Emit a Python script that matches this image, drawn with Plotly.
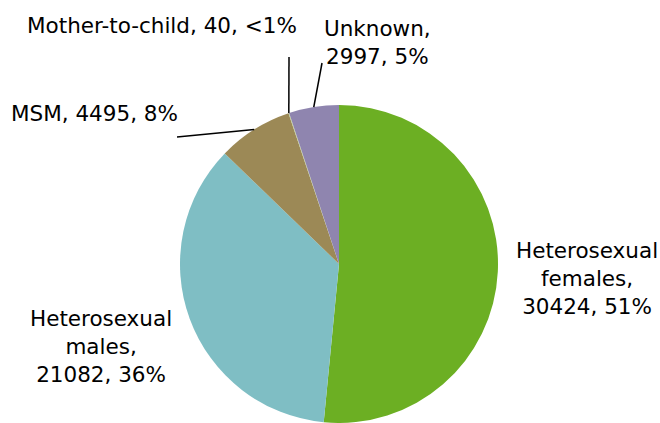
import math
import plotly.graph_objects as go

# ---- data ----
categories = ["Heterosexual females", "Heterosexual males", "MSM", "Mother-to-child", "Unknown"]
values = [30424, 21082, 4495, 40, 2997]
pct_labels = ["51%", "36%", "8%", "<1%", "5%"]
label_text = [
    "Heterosexual<br>females,<br>30424, 51%",
    "Heterosexual<br>males,<br>21082, 36%",
    "MSM, 4495, 8%",
    "Mother-to-child, 40, <1%",
    "Unknown,<br>2997, 5%",
]
colors = ["#6CAF23", "#7FBEC4", "#9C8956", "#BCD08E", "#8F85AF"]

W, H = 660, 423
cx, cy, r = 339, 264, 159  # pixel layout of pie

fig = go.Figure()
fig.add_trace(go.Pie(
    labels=categories, values=values, sort=False, direction="clockwise",
    rotation=0, textinfo="none", hoverinfo="label+value+percent",
    marker=dict(colors=colors, line=dict(width=0)),
    domain=dict(x=[(cx - r) / W, (cx + r) / W], y=[0, 2 * r / H]),
    showlegend=False,
))

font = dict(family="DejaVu Sans", size=21.5, color="#000000")

# label positions (pixel centres) - layout only
label_pos = {
    0: (587, 278),
    1: (101, 346),
    2: (94, 114),
    3: (162, 26),
    4: (377, 42),
}
for i, (px, py) in label_pos.items():
    fig.add_annotation(x=px / W, y=1 - py / H, xref="paper", yref="paper",
                       text=label_text[i], showarrow=False, font=font,
                       xanchor="center", yanchor="middle", align="center")

# leader lines: start at slice mid-angle on pie edge (computed from data)
total = sum(values)
cum = 0
mids = []
for v in values:
    mids.append((cum + v / 2) / total * 360)
    cum += v
leader_end = {2: (177, 137), 3: (289, 57), 4: (322, 63)}
for i, (ex, ey) in leader_end.items():
    a = math.radians(mids[i])
    sx = cx + r * math.sin(a)
    sy = cy - r * math.cos(a)
    fig.add_shape(type="line", xref="paper", yref="paper",
                  x0=sx / W, y0=1 - sy / H, x1=ex / W, y1=1 - ey / H,
                  line=dict(color="black", width=1.5))

fig.update_layout(width=W, height=H, margin=dict(l=0, r=0, t=0, b=0),
                  paper_bgcolor="white", plot_bgcolor="white")
fig.write_html("out.html", config={"displayModeBar": False},
               post_script="document.body.style.margin='0';document.body.style.overflow='hidden';")
